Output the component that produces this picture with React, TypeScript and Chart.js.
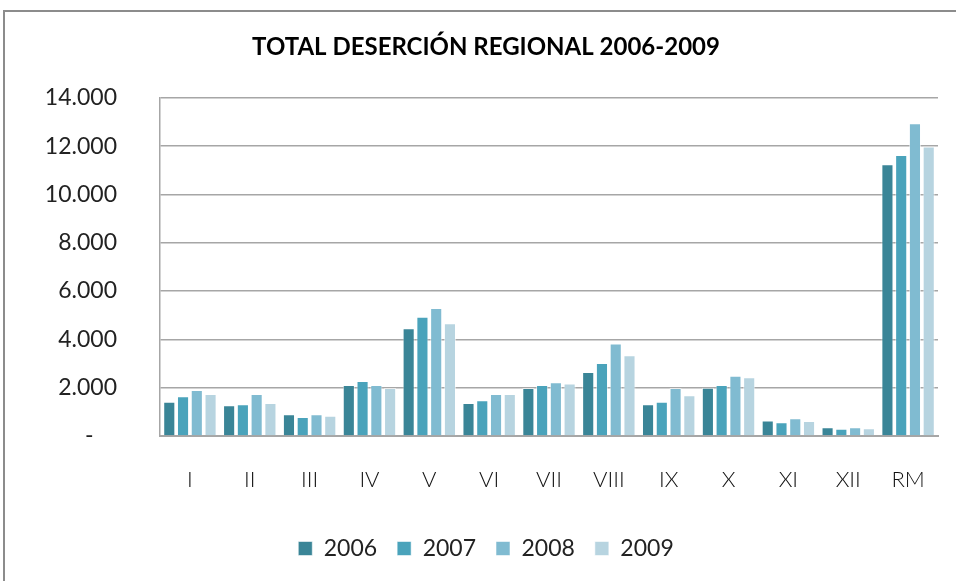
import React, { useEffect, useRef } from "react";
import { Chart, registerables } from "chart.js";

Chart.register(...registerables);

const regions = ["I", "II", "III", "IV", "V", "VI", "VII", "VIII", "IX", "X", "XI", "XII", "RM"];
const years = ["2006", "2007", "2008", "2009"];
const values2006 = [1420, 1270, 900, 2110, 4460, 1370, 1990, 2650, 1310, 2000, 640, 360, 11250];
const values2007 = [1650, 1310, 790, 2280, 4940, 1480, 2110, 3020, 1420, 2110, 570, 300, 11630];
const values2008 = [1900, 1740, 900, 2110, 5300, 1740, 2220, 3830, 1990, 2490, 730, 360, 12950];
const values2009 = [1740, 1370, 840, 1990, 4670, 1740, 2170, 3340, 1690, 2430, 620, 320, 11980];
const yTicks = [0, 2000, 4000, 6000, 8000, 10000, 12000, 14000];
const colors = ["#3a8597", "#4aa3bb", "#80bbd1", "#b7d4e0"];

const FONT = "Lato, 'Open Sans', sans-serif";

function fmt(v: number): string {
  if (v === 0) return "-    ";
  return String(v).replace(/\B(?=(\d{3})+(?!\d))/g, ".");
}

export default function App() {
  const ref = useRef<HTMLCanvasElement | null>(null);

  useEffect(() => {
    if (!ref.current) return;
    const series = [values2006, values2007, values2008, values2009];
    const chart = new Chart(ref.current, {
      type: "bar",
      data: {
        labels: regions,
        datasets: years.map((y, i) => ({
          label: y,
          data: series[i],
          backgroundColor: colors[i],
          borderColor: "rgba(255,255,255,0.55)",
          borderWidth: 1,
          categoryPercentage: 0.92,
          barPercentage: 0.88,
        })),
      },
      options: {
        animation: false,
        responsive: false,
        maintainAspectRatio: false,
        devicePixelRatio: 1,
        layout: { padding: { left: 34, right: 18, top: 0, bottom: 11 } },
        plugins: {
          title: {
            display: true,
            text: "TOTAL DESERCIÓN REGIONAL 2006-2009",
            color: "#000",
            font: { family: FONT, size: 24, weight: "bold" },
            padding: { top: 33, bottom: 36 },
          },
          legend: {
            position: "bottom",
            labels: {
              boxWidth: 14,
              boxHeight: 14,
              padding: 20,
              color: "#222",
              font: { family: FONT, size: 23 },
            },
          },
          tooltip: { enabled: false },
        },
        scales: {
          x: {
            grid: { display: false },
            border: { display: true, color: "#a6a6a6", width: 2 },
            ticks: {
              color: "#111",
              padding: 23,
              font: { family: FONT, size: 22, weight: "300" },
            },
            afterFit: (s: any) => {
              s.height = 81;
            },
          },
          y: {
            min: 0,
            max: 14000,
            afterBuildTicks: (s: any) => {
              s.ticks = yTicks.map((v) => ({ value: v }));
            },
            grid: { color: "#a6a6a6", lineWidth: 1.5, drawTicks: false },
            border: { display: true, color: "#a6a6a6", width: 1.5 },
            ticks: {
              color: "#222",
              padding: 43,
              font: { family: FONT, size: 23 },
              callback: (v: any) => fmt(Number(v)),
            },
            afterFit: (s: any) => {
              s.width = 126;
            },
          },
        },
      },
    });
    return () => chart.destroy();
  }, []);

  return (
    <div
      style={{
        position: "absolute",
        left: 0,
        top: 0,
        width: 956,
        height: 581,
        overflow: "hidden",
        background: "#fff",
      }}
    >
      <div
        style={{
          position: "absolute",
          left: 3,
          top: 10,
          width: 1000,
          height: 1000,
          border: "2px solid #8c8c8c",
        }}
      />
      <canvas
        ref={ref}
        width={956}
        height={581}
        style={{ position: "absolute", left: 0, top: 0, width: 956, height: 581 }}
      />
    </div>
  );
}
